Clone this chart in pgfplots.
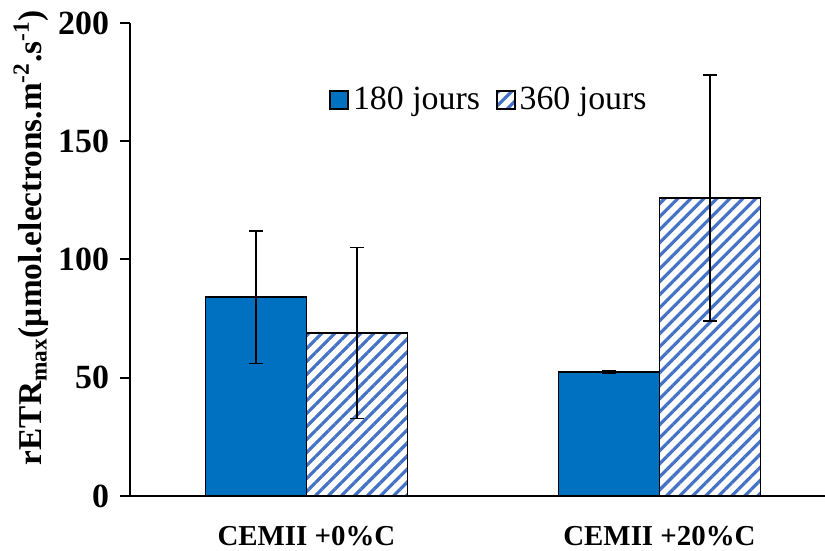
\documentclass[border=0pt]{standalone}
\usepackage{fontspec}
\setmainfont{Liberation Serif}
\usepackage{pgfplots}
\pgfplotsset{compat=1.18}
\usetikzlibrary{patterns.meta}
\definecolor{solidblue}{HTML}{0070C0}
\definecolor{hatchblue}{HTML}{4472C4}
\begin{document}
\begin{tikzpicture}
\begin{axis}[
    scale only axis,
    width=347.5bp, height=236.5bp,
    ybar=0pt, bar width=50.5bp,
    xmin=-0.5, xmax=1.469,
    ymin=0, ymax=200,
    xtick={0,1},
    xticklabels={CEMII +0\%C, CEMII +20\%C},
    ytick={0,50,100,150,200},
    axis x line*=bottom, axis y line*=left,
    axis line style={line width=1bp, -},
    x tick style={draw=none},
    y tick style={line width=1bp, black},
    tick align=outside, major tick length=5bp,
    ticklabel style={font=\fontsize{17}{18}\selectfont\bfseries},
    xticklabel style={font=\fontsize{14.5}{16}\selectfont\bfseries, anchor=base, yshift=-19.5bp},
    /pgf/number format/assume math mode=true,
    yticklabel style={xshift=-2bp},
    ylabel={\fontsize{16.7}{18}\selectfont\bfseries rETR\textsubscript{max}(µmol.electrons.m\textsuperscript{-2}.s\textsuperscript{-1})},
    ylabel style={yshift=-2bp, xshift=11bp},
    legend columns=2,
    legend style={draw=none, at={(0.518,0.837)}, anchor=center,
        font=\fontsize{17}{18}\selectfont,
        /tikz/every even column/.append style={column sep=6bp}},
    legend image code/.code={\draw[#1, line width=0.8bp] (0bp,-4.5bp) rectangle (9bp,4.5bp);},
    error bars/y dir=both, error bars/y explicit,
    error bars/error bar style={line width=0.8bp, black},
    error bars/error mark options={rotate=90, mark size=3.5bp, line width=0.8bp, black},
]
\addplot[fill=solidblue, draw=black, line width=0.8bp]
    coordinates {(0,84.1) +- (0,28) (1,52.4) +- (0,0.5)};
\addplot[draw=black, line width=0.8bp,
    pattern={Lines[angle=45, distance=4.6bp, line width=1.6bp]}, pattern color=hatchblue]
    coordinates {(0,68.9) +- (0,36.2) (1,126.0) +- (0,52)};
\legend{180 jours, 360 jours}
\end{axis}
\pgfresetboundingbox
\useasboundingbox (-65bp,-27.5bp) rectangle (347.5bp,248bp);
\end{tikzpicture}
\end{document}
